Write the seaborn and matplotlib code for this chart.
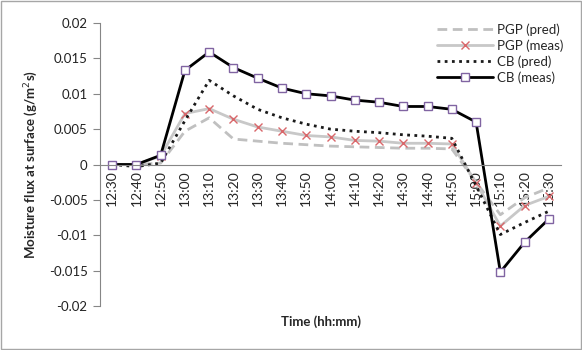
import matplotlib
matplotlib.use("Agg")
import matplotlib.pyplot as plt
import seaborn as sns
import numpy as np
import pandas as pd
from matplotlib.patches import Rectangle

times = ["12:30", "12:40", "12:50", "13:00", "13:10", "13:20", "13:30", "13:40", "13:50",
         "14:00", "14:10", "14:20", "14:30", "14:40", "14:50", "15:00", "15:10", "15:20", "15:30"]
pgp_pred = [0.0, 0.0, 0.0002, 0.0047, 0.0066, 0.0036, 0.0033, 0.0030, 0.0028,
            0.0026, 0.0025, 0.0024, 0.0023, 0.0023, 0.0022, -0.0025, -0.0071, -0.0047, -0.0033]
pgp_meas = [0.0, 0.0, 0.0012, 0.0072, 0.0079, 0.0064, 0.0053, 0.0047, 0.0041,
            0.0039, 0.0034, 0.0033, 0.0030, 0.0030, 0.0029, -0.0026, -0.0087, -0.0058, -0.0045]
cb_pred = [0.0, -0.0003, 0.0002, 0.0062, 0.0119, 0.0097, 0.0078, 0.0066, 0.0057,
           0.0050, 0.0047, 0.0045, 0.0042, 0.0040, 0.0037, -0.0030, -0.0099, -0.0082, -0.0066]
cb_meas = [0.0, 0.0, 0.0013, 0.0133, 0.0159, 0.0137, 0.0122, 0.0108, 0.0100,
           0.0097, 0.0091, 0.0088, 0.0082, 0.0082, 0.0078, 0.0060, -0.0152, -0.0110, -0.0077]
yticks = [0.02, 0.015, 0.01, 0.005, 0, -0.005, -0.01, -0.015, -0.02]
ytick_labels = ["0.02", "0.015", "0.01", "0.005", "0", "-0.005", "-0.01", "-0.015", "-0.02"]

sns.set_style("white")
plt.rcParams['font.family'] = ['Lato', 'DejaVu Sans']

fig = plt.figure(figsize=(5.82, 3.5), dpi=100)
ax = fig.add_axes([100/582, 1-306/350, 461/582, 283/350])

idx = np.arange(len(times))
series = [
    ("PGP (pred)", pgp_pred, dict(color="#C0C0C0", linestyle=(0, (3.5, 2)), linewidth=2.0)),
    ("PGP (meas)", pgp_meas, dict(color="#C8C8C8", linewidth=2.0, marker="x", markersize=6,
                                  markeredgecolor="#D9676A", markeredgewidth=1.0)),
    ("CB (pred)", cb_pred, dict(color="#1A1A1A", linestyle=(0, (1, 1.6)), linewidth=2.0)),
    ("CB (meas)", cb_meas, dict(color="#000000", linewidth=2.0, marker="s", markersize=5.5,
                                markerfacecolor="white", markeredgecolor="#8064A2", markeredgewidth=1.0)),
]
for name, vals, kw in series:
    df = pd.DataFrame({"t": idx, "v": vals})
    sns.lineplot(data=df, x="t", y="v", ax=ax, label=name, **kw)

ax.set_xlim(-0.5, len(times) - 0.5)
ax.set_ylim(-0.02, 0.02)
ax.set_yticks(yticks)
ax.set_yticklabels(ytick_labels, fontsize=9.5, color="#222222")
ax.set_xticks(idx)
ax.set_xticklabels(times, fontsize=9.5, color="#222222")
ax.set_xticks(np.arange(-0.5, len(times) + 0.5, 1), minor=True)
ax.tick_params(axis="x", which="major", length=0, pad=4, labelrotation=90)
ax.tick_params(axis="x", which="minor", length=5, width=0.8, color="#868686", direction="out")
ax.tick_params(axis="y", length=5, width=0.8, color="#868686", direction="out", left=True, pad=4)
for lab in ax.get_xticklabels():
    lab.set_rotation(90)
    lab.set_va("top")
    lab.set_ha("center")

for s in ["top", "right"]:
    ax.spines[s].set_visible(False)
ax.spines["left"].set_color("#868686")
ax.spines["left"].set_linewidth(0.8)
ax.spines["bottom"].set_position(("data", 0))
ax.spines["bottom"].set_color("#868686")
ax.spines["bottom"].set_linewidth(0.8)

ax.set_xlabel("")
ax.set_ylabel("Moisture flux at surface (g/m$^2$s)", fontsize=9.5, fontweight="bold", labelpad=6)
fig.text(321/582, 1-322/350, "Time (hh:mm)", ha="center", va="center", fontsize=9.5, fontweight="bold")

leg = ax.legend(loc="upper right", bbox_to_anchor=(1.03, 1.04), frameon=False, fontsize=9.5,
                handlelength=4.2, handletextpad=0.3, labelspacing=0.25)

fig.patches.append(Rectangle((0.002, 0.003), 0.996, 0.994, transform=fig.transFigure,
                             fill=False, edgecolor="#A6A6A6", linewidth=1.0))

fig.savefig("out.png", dpi=100)
